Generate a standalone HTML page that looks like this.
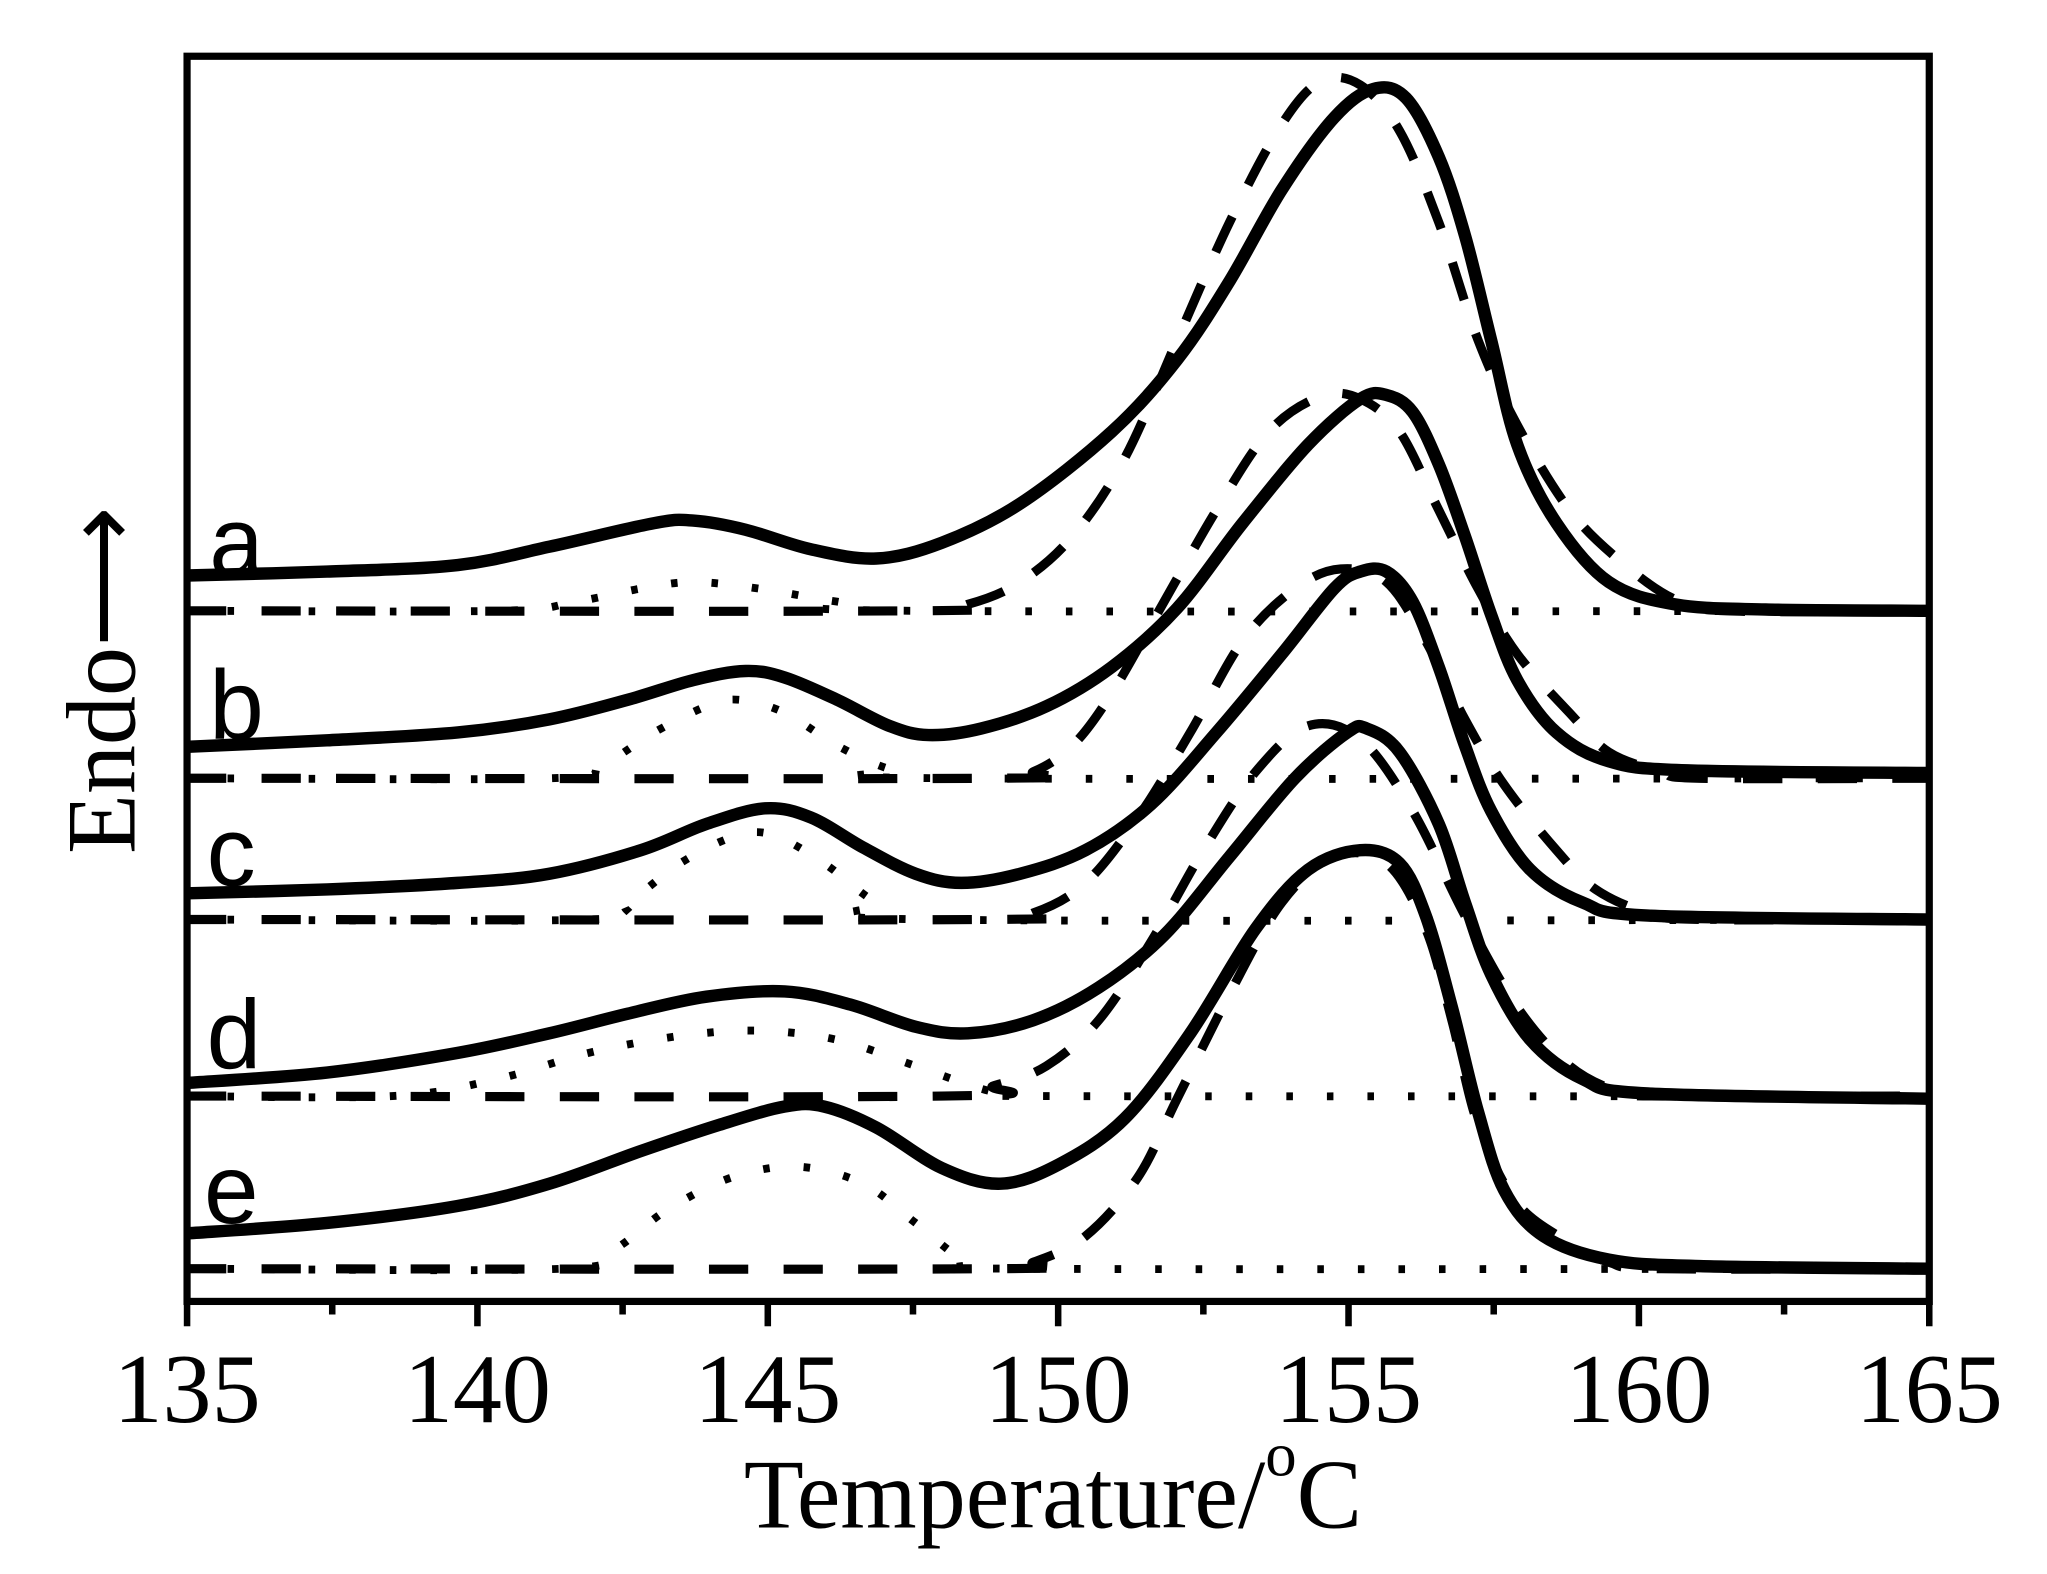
<!DOCTYPE html>
<html><head><meta charset="utf-8">
<style>
html,body{margin:0;padding:0;background:#fff;}
svg{display:block;}
</style></head>
<body>
<svg id="s" width="2047" height="1574" viewBox="0 0 1565 1203.4" xmlns="http://www.w3.org/2000/svg">
<rect x="0" y="0" width="1565" height="1204" fill="#fff"/>
<g id="curves" fill="none" stroke="#000" stroke-linejoin="round"></g>
<rect x="143" y="43" width="1332" height="952" fill="none" stroke="#000" stroke-width="5.5"/>
<g id="ticks" stroke="#000" stroke-width="5"></g>
<g font-family="Liberation Serif, serif" font-size="75" text-anchor="middle" fill="#000">
<text x="143" y="1087">135</text>
<text x="365" y="1087">140</text>
<text x="587" y="1087">145</text>
<text x="809" y="1087">150</text>
<text x="1031" y="1087">155</text>
<text x="1253" y="1087">160</text>
<text x="1475" y="1087">165</text>
<text x="805" y="1168">Temperature/<tspan font-size="48" dy="-40">o</tspan><tspan dy="40">C</tspan></text>
<text transform="translate(103,520) rotate(-90)" text-anchor="middle">Endo⟶</text>
</g>
<g font-family="Liberation Sans, sans-serif" font-size="75" fill="#000">
<text x="160" y="440">a</text>
<text x="160" y="565">b</text>
<text x="158" y="677">c</text>
<text x="158" y="817">d</text>
<text x="156" y="935">e</text>
</g>
</svg>
<script>
function cr(p){
  let d="M"+p[0][0]+","+p[0][1];
  for(let i=0;i<p.length-1;i++){
    const p0=p[Math.max(0,i-1)],p1=p[i],p2=p[i+1],p3=p[Math.min(p.length-1,i+2)];
    const c1=[p1[0]+(p2[0]-p0[0])/6,p1[1]+(p2[1]-p0[1])/6];
    const c2=[p2[0]-(p3[0]-p1[0])/6,p2[1]-(p3[1]-p1[1])/6];
    d+=" C"+c1[0].toFixed(1)+","+c1[1].toFixed(1)+" "+c2[0].toFixed(1)+","+c2[1].toFixed(1)+" "+p2[0]+","+p2[1];
  }
  return d;
}
const S={
a:[[143,440],[250,437],[350,432],[420,418],[500,400],[530,398],[570,405],[620,420],[670,427],[720,415],[780,385],[850,330],[900,275],[940,215],[980,145],[1020,90],[1050,68],[1075,75],[1100,120],[1120,180],[1140,260],[1160,340],[1190,400],[1230,445],[1280,462],[1350,466],[1475,467]],
b:[[143,571],[250,566],[350,560],[420,550],[480,535],[530,520],[570,513],[600,518],[640,535],[680,555],[710,562],[750,557],[800,540],[850,510],[900,465],[950,400],[1000,340],[1040,305],[1060,302],[1080,315],[1100,355],[1120,410],[1140,470],[1160,520],[1190,560],[1230,582],[1290,589],[1475,591]],
c:[[143,683],[250,680],[350,675],[420,668],[490,650],[540,630],[585,618],[620,625],[660,648],[700,668],[735,675],[780,668],[830,650],[880,615],[930,560],[980,500],[1020,450],[1040,437],[1060,437],[1080,460],[1100,510],[1120,570],[1140,620],[1170,665],[1210,690],[1260,700],[1475,703]],
d:[[143,828],[250,820],[350,805],[420,790],[480,775],[540,762],[600,758],[650,768],[700,785],[740,790],[790,780],[840,755],[890,715],[940,655],[990,595],[1030,560],[1045,557],[1070,575],[1100,630],[1120,690],[1140,745],[1170,795],[1210,825],[1260,836],[1475,840]],
e:[[143,943],[250,935],[350,922],[420,905],[490,880],[550,860],[600,846],[630,846],[670,862],[720,893],[765,905],[810,890],[860,855],[910,790],[960,710],[1000,665],[1040,650],[1070,660],[1090,700],[1110,770],[1130,850],[1150,910],[1180,945],[1230,963],[1300,968],[1475,970]]
};
const D={
a:[[143,467],[700,467],[740,462],[780,445],[820,410],[860,350],[900,260],[940,170],[980,95],[1010,62],[1040,65],[1070,100],[1100,170],[1130,260],[1160,325],[1200,390],[1240,430],[1280,458],[1320,467],[1475,467]],
b:[[143,595],[760,595],[790,590],[820,570],[850,530],[890,460],[930,390],[970,330],[1010,303],[1040,305],[1070,330],[1100,390],[1130,450],[1160,500],[1200,545],[1230,575],[1270,590],[1300,595],[1475,595]],
c:[[143,703],[750,703],[790,698],[830,675],[870,625],[910,560],[950,490],[990,450],[1025,435],[1060,445],[1090,490],[1120,550],[1150,600],[1190,650],[1220,680],[1260,698],[1300,703],[1475,703]],
d:[[143,838],[720,838],[760,830],[800,815],[840,780],[880,720],[920,650],[960,590],[1000,555],[1040,565],[1080,620],[1120,700],[1160,770],[1200,815],[1240,835],[1280,838],[1475,838]],
e:[[143,970],[760,970],[790,965],[830,945],[870,900],[900,840],[940,760],[980,690],[1020,655],[1060,660],[1090,710],[1110,780],[1130,860],[1160,920],[1200,950],[1230,965],[1270,970],[1475,970]]
};
const O={
a:[[143,467],[380,467],[440,460],[490,450],[530,445],[580,450],[640,460],[700,467],[1475,467]],
b:[[143,595],[420,595],[460,585],[500,560],[540,540],[565,535],[600,545],[640,570],[680,588],[720,595],[1475,595]],
c:[[143,703],[450,703],[480,690],[520,660],[560,640],[590,638],[630,660],[670,690],[710,703],[1475,703]],
d:[[143,838],[300,838],[380,825],[450,805],[520,792],[580,788],[640,795],[700,815],[760,835],[800,838],[1475,838]],
e:[[143,970],[430,970],[470,955],[510,925],[560,900],[610,892],[660,905],[700,935],[740,965],[780,970],[1475,970]]
};
let h="";
for(const k of "abcde"){
  h+='<path d="'+cr(O[k])+'" stroke-width="6" stroke-dasharray="5 26" stroke-linecap="butt"/>';
  h+='<path d="'+cr(D[k])+'" stroke-width="7" stroke-dasharray="30 27"/>';
  h+='<path d="'+cr(S[k])+'" stroke-width="9.5"/>';
}
document.getElementById("curves").innerHTML=h;
let t="";
for(let i=0;i<=12;i++){
  const x=143+i*111; const L=(i%2==0)?19:10;
  t+='<line x1="'+x+'" y1="995" x2="'+x+'" y2="'+(995+L)+'"/>';
}
document.getElementById("ticks").innerHTML=t;
</script>
</body></html>
